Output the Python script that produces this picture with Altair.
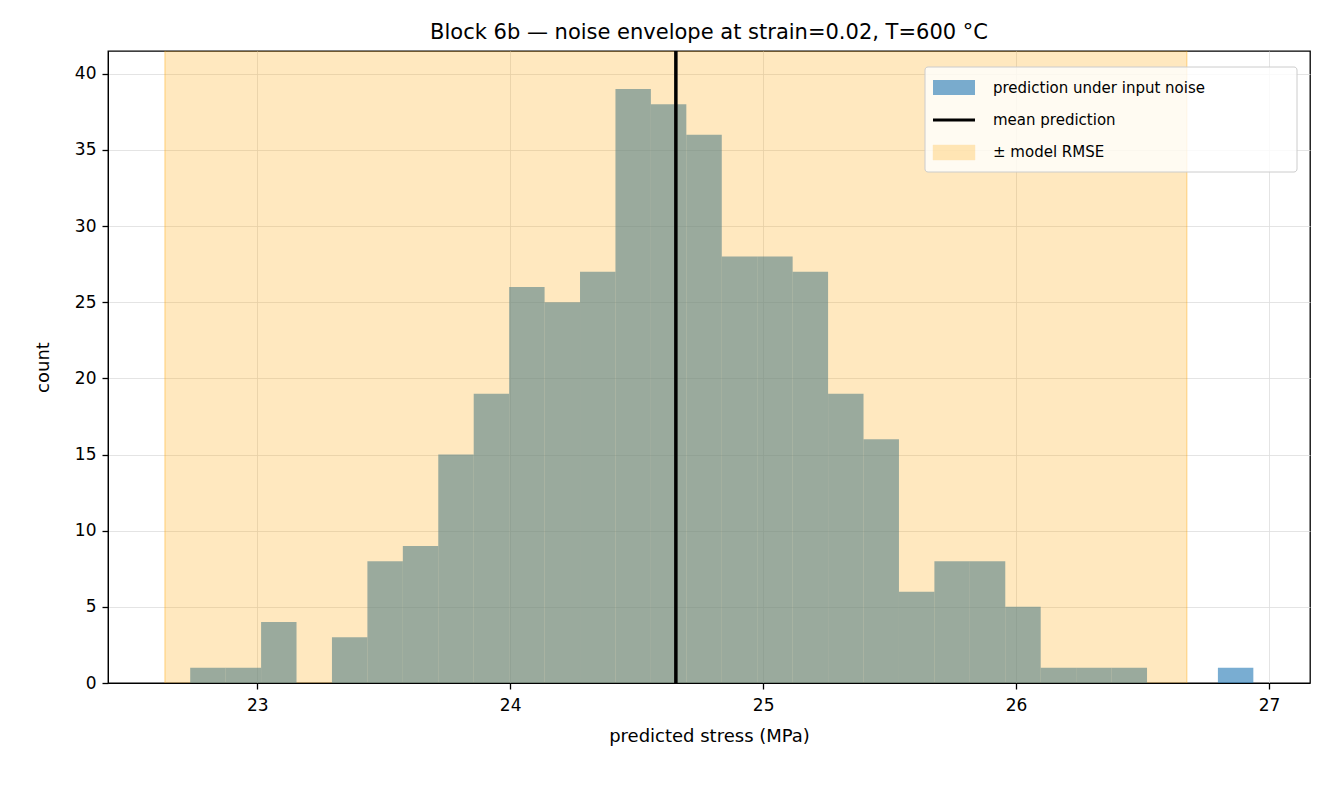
import altair as alt
import pandas as pd

# histogram of predictions (30 bins)
bin_start = 22.735
bin_width = 0.1401
counts = [1, 1, 4, 0, 3, 8, 9, 15, 19, 26, 25, 27, 39, 38, 36,
          28, 28, 27, 19, 16, 6, 8, 8, 5, 1, 1, 1, 0, 0, 1]
mean_pred = 24.655
rmse = 2.02

bars = pd.DataFrame({
    'x0': [bin_start + i * bin_width for i in range(len(counts))],
    'x1': [bin_start + (i + 1) * bin_width for i in range(len(counts))],
    'count': counts,
})

font = 'DejaVu Sans'
xs = alt.Scale(domain=[22.41, 27.162], nice=False, zero=False)
ys = alt.Scale(domain=[0, 41.5], nice=False)

hist = alt.Chart(bars).mark_rect(color='#1f77b4', opacity=0.6, strokeWidth=0).encode(
    x=alt.X('x0:Q', scale=xs, title='predicted stress (MPa)',
            axis=alt.Axis(values=[23, 24, 25, 26, 27], format='d', grid=True)),
    x2='x1:Q',
    y=alt.Y('count:Q', scale=ys, title='count',
            axis=alt.Axis(values=[0, 5, 10, 15, 20, 25, 30, 35, 40], grid=True)),
    y2=alt.datum(0),
)

band = alt.Chart(pd.DataFrame({'lo': [mean_pred - rmse], 'hi': [mean_pred + rmse]})).mark_rect(
    color='orange', opacity=0.25).encode(
    x=alt.X('lo:Q', scale=xs), x2='hi:Q', y=alt.value(0), y2=alt.value(632))

band_edge = alt.Chart(pd.DataFrame({'v': [mean_pred - rmse, mean_pred + rmse]})).mark_rule(
    color='orange', opacity=0.3, strokeWidth=1.5).encode(x=alt.X('v:Q', scale=xs))

mean_line = alt.Chart(pd.DataFrame({'m': [mean_pred]})).mark_rule(
    color='black', strokeWidth=3.5).encode(x=alt.X('m:Q', scale=xs))

# legend
lx, ly = 817, 16
leg_box = alt.Chart(pd.DataFrame({'a': [0]})).mark_rect(
    fill='white', fillOpacity=0.8, stroke='#cccccc', cornerRadius=3).encode(
    x=alt.value(lx), x2=alt.value(lx + 372), y=alt.value(ly), y2=alt.value(ly + 105))
leg_blue = alt.Chart(pd.DataFrame({'a': [0]})).mark_rect(color='#1f77b4', opacity=0.6).encode(
    x=alt.value(lx + 8), x2=alt.value(lx + 50), y=alt.value(ly + 13), y2=alt.value(ly + 28))
leg_line = alt.Chart(pd.DataFrame({'a': [0]})).mark_rule(color='black', strokeWidth=3).encode(
    x=alt.value(lx + 8), x2=alt.value(lx + 50), y=alt.value(ly + 53))
leg_orange = alt.Chart(pd.DataFrame({'a': [0]})).mark_rect(
    color='orange', opacity=0.25, stroke='orange', strokeOpacity=0.4).encode(
    x=alt.value(lx + 8), x2=alt.value(lx + 50), y=alt.value(ly + 78), y2=alt.value(ly + 93))
leg_text = alt.Chart(pd.DataFrame({
    't': ['prediction under input noise', 'mean prediction', '± model RMSE'],
    'yy': [ly + 21, ly + 53, ly + 85]})).mark_text(
    align='left', baseline='middle', font=font, fontSize=15, color='black').encode(
    x=alt.value(lx + 68), y=alt.Y('yy:Q', scale=None), text='t:N')

chart = alt.layer(hist, band, band_edge, mean_line,
                  leg_box, leg_blue, leg_line, leg_orange, leg_text).properties(
    width=1202, height=632,
    title=alt.Title('Block 6b — noise envelope at strain=0.02, T=600 °C',
                    font=font, fontSize=21, fontWeight='normal', offset=6),
    autosize=alt.AutoSizeParams(type='none'),
    padding={'left': 100, 'top': 43, 'right': 8, 'bottom': 95},
).configure_view(stroke='black', strokeWidth=1.3).configure_axis(
    labelFont=font, titleFont=font, labelFontSize=17, titleFontSize=18,
    titleFontWeight='normal', labelColor='black', titleColor='black',
    domainColor='black', tickColor='black', tickSize=6, tickWidth=1.3,
    gridColor='#dddddd', gridOpacity=0.8,
).configure_axisX(labelPadding=8, titlePadding=14).configure_axisY(
    labelPadding=6, titlePadding=22)

chart.save("out.html", embed_options={"renderer": "svg", "actions": False})
